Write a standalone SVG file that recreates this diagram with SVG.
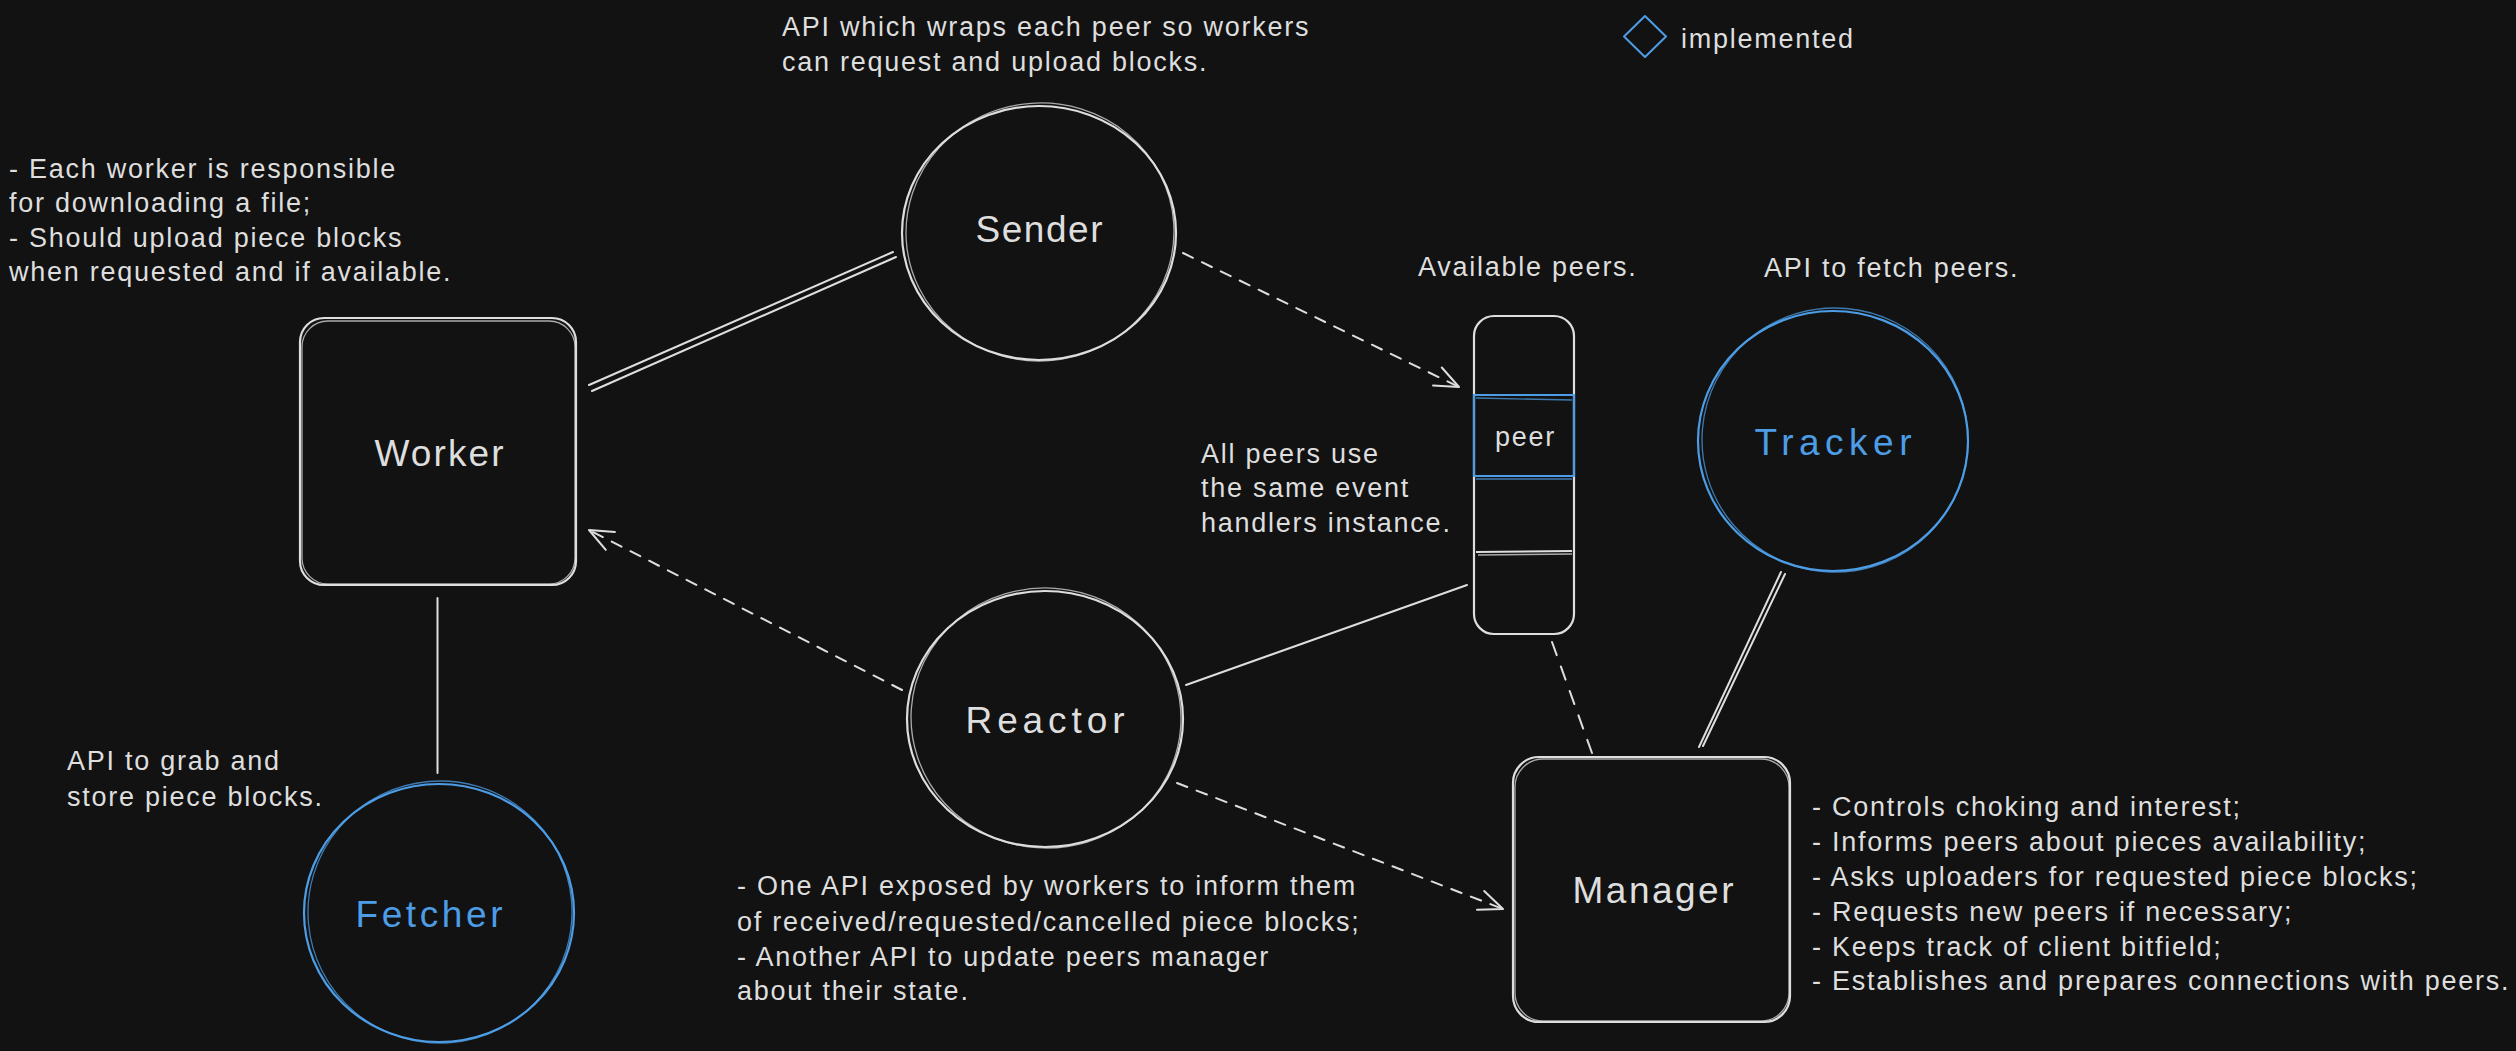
<svg xmlns="http://www.w3.org/2000/svg" width="2516" height="1051" viewBox="0 0 2516 1051">
<style>
.shape{fill:none;stroke:#dedede;stroke-width:2.2;stroke-linejoin:round}
.sk{fill:none;stroke:#dedede;stroke-width:1.3;opacity:0.75}
.blue{stroke:#4d9de6}
.lbl{font-family:"Liberation Sans",Arial,sans-serif;font-size:37px;fill:#dedede;text-anchor:middle}
.lblb{fill:#4d9de6}
.note{font-family:"Liberation Sans",Arial,sans-serif;font-size:27px;fill:#dedede;letter-spacing:1.75px}
.conn{fill:none;stroke:#dedede;stroke-width:2;stroke-linecap:round}
.dash{stroke-dasharray:11 10}
</style>
<defs>
<marker id="arr" markerUnits="userSpaceOnUse" markerWidth="32" markerHeight="28" viewBox="0 0 32 28" refX="29" refY="14" orient="auto">
<path d="M5,4 L29,14 L5,24" fill="none" stroke="#dedede" stroke-width="2" stroke-linecap="round" stroke-linejoin="round"/>
</marker>
</defs>
<rect x="0" y="0" width="2516" height="1051" fill="#121212"/>

<g id="connectors">
<line class="conn" x1="589" y1="385" x2="893" y2="252"/>
<line class="conn" x1="592" y1="391" x2="896" y2="257" stroke-width="1.3"/>
<line class="conn dash" x1="1183" y1="253" x2="1459" y2="387" marker-end="url(#arr)"/>
<line class="conn dash" x1="902" y1="690" x2="589" y2="530" marker-end="url(#arr)"/>
<line class="conn" x1="437.5" y1="598" x2="437.5" y2="773"/>
<line class="conn" x1="1186" y1="685" x2="1467" y2="585"/>
<line class="conn dash" x1="1177" y1="783" x2="1503" y2="909" marker-end="url(#arr)"/>
<line class="conn" x1="1552" y1="642" x2="1592" y2="753" stroke-dasharray="14 12"/>
<line class="conn" x1="1781" y1="572" x2="1699" y2="747"/>
<line class="conn" x1="1785" y1="574" x2="1703" y2="746" stroke-width="1.2"/>
</g>

<g id="worker">
<rect class="shape" x="300" y="318" width="276" height="267" rx="24"/>
<rect class="sk" x="302" y="321" width="273" height="263" rx="26"/>
<text class="lbl" x="439" y="466" textLength="129" lengthAdjust="spacing">Worker</text>
</g>

<g id="sender">
<ellipse class="shape" cx="1039" cy="233" rx="137" ry="127"/>
<ellipse class="sk" cx="1040" cy="232" rx="134" ry="129" transform="rotate(-4 1040 232)"/>
<text class="lbl" x="1039" y="242" textLength="127" lengthAdjust="spacing">Sender</text>
</g>

<g id="peers">
<rect class="shape" x="1474" y="316" width="100" height="318" rx="20"/>
<line class="shape" x1="1476" y1="552" x2="1572" y2="551"/>
<line class="sk" x1="1478" y1="555" x2="1572" y2="554"/>
<rect class="shape blue" x="1474" y="395" width="100" height="81"/>
<line class="sk blue" x1="1476" y1="398" x2="1572" y2="400"/>
<line class="sk blue" x1="1476" y1="479" x2="1572" y2="479"/>
<text class="note lblb" x="1495" y="446">peer</text>
</g>

<g id="tracker">
<ellipse class="shape blue" cx="1833" cy="441" rx="135" ry="130"/>
<ellipse class="sk blue" cx="1835" cy="440" rx="133" ry="132" transform="rotate(5 1835 440)"/>
<text class="lbl lblb" x="1833" y="455" textLength="157" lengthAdjust="spacing">Tracker</text>
</g>

<g id="reactor">
<ellipse class="shape" cx="1045" cy="719" rx="138" ry="128"/>
<ellipse class="sk" cx="1046" cy="718" rx="135" ry="130" transform="rotate(4 1046 718)"/>
<text class="lbl" x="1045" y="733" textLength="159" lengthAdjust="spacing">Reactor</text>
</g>

<g id="fetcher">
<ellipse class="shape blue" cx="439" cy="913" rx="135" ry="129"/>
<ellipse class="sk blue" cx="440" cy="912" rx="132" ry="131" transform="rotate(-5 440 912)"/>
<text class="lbl lblb" x="429" y="927" textLength="147" lengthAdjust="spacing">Fetcher</text>
</g>

<g id="manager">
<rect class="shape" x="1513" y="757" width="277" height="265" rx="26"/>
<rect class="sk" x="1515" y="759" width="274" height="262" rx="28"/>
<text class="lbl" x="1653" y="903" textLength="161" lengthAdjust="spacing">Manager</text>
</g>

<g id="legend">
<path d="M1645,16 L1666,36.5 L1645,57 L1624,36.5 Z" fill="none" stroke="#4d9de6" stroke-width="2" stroke-linejoin="round"/>
<text class="note" x="1681" y="48" letter-spacing="0">implemented</text>
</g>

<g id="notes">
<text class="note" x="782" y="36">API which wraps each peer so workers</text>
<text class="note" x="782" y="71">can request and upload blocks.</text>

<text class="note" x="9" y="178">- Each worker is responsible</text>
<text class="note" x="9" y="212">for downloading a file;</text>
<text class="note" x="9" y="247">- Should upload piece blocks</text>
<text class="note" x="9" y="281">when requested and if available.</text>

<text class="note" x="1418" y="276">Available peers.</text>
<text class="note" x="1764" y="277">API to fetch peers.</text>

<text class="note" x="1201" y="463">All peers use</text>
<text class="note" x="1201" y="497">the same event</text>
<text class="note" x="1201" y="532">handlers instance.</text>

<text class="note" x="67" y="770">API to grab and</text>
<text class="note" x="67" y="806">store piece blocks.</text>

<text class="note" x="737" y="895">- One API exposed by workers to inform them</text>
<text class="note" x="737" y="931">of received/requested/cancelled piece blocks;</text>
<text class="note" x="737" y="966">- Another API to update peers manager</text>
<text class="note" x="737" y="1000">about their state.</text>

<text class="note" x="1812" y="816">- Controls choking and interest;</text>
<text class="note" x="1812" y="851">- Informs peers about pieces availability;</text>
<text class="note" x="1812" y="886">- Asks uploaders for requested piece blocks;</text>
<text class="note" x="1812" y="921">- Requests new peers if necessary;</text>
<text class="note" x="1812" y="956">- Keeps track of client bitfield;</text>
<text class="note" x="1812" y="990">- Establishes and prepares connections with peers.</text>
</g>
</svg>
